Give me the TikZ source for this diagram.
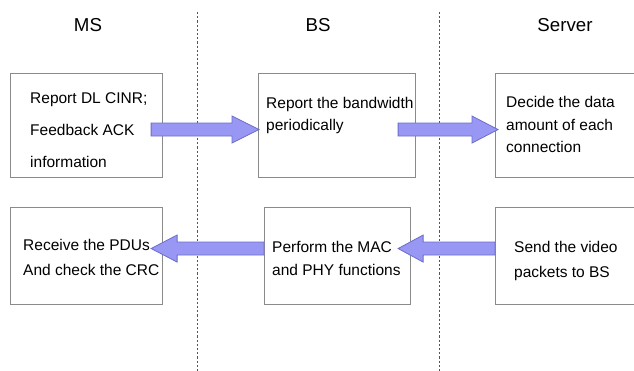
\documentclass[tikz,border=0pt]{standalone}
\usepackage{fontspec}
\setmainfont{Liberation Sans}
\usetikzlibrary{calc}
\definecolor{arrowfill}{HTML}{9898F4}
\definecolor{arrowline}{HTML}{6C6CCC}
\definecolor{boxline}{HTML}{8A8A8A}
\definecolor{dashline}{HTML}{555555}
\tikzset{
  box/.style={draw=boxline, line width=1.1pt, rectangle, inner sep=0pt},
  txt/.style={anchor=base west, inner sep=0pt, font=\fontsize{15.5}{18}\selectfont},
  head/.style={anchor=center, inner sep=0pt, font=\fontsize{18.7}{22}\selectfont},
  sep/.style={draw=dashline, line width=1pt, dash pattern=on 2.2pt off 2pt},
  fatarrow/.style={fill=arrowfill, draw=arrowline, line width=0.8pt, line join=miter}
}
\newcommand\fatarrow[3]{%
  \path[fatarrow] let \p1=(#1), \p2=(#2) in
    (\x1,{\y1+6.5pt}) -- ({\x2-(#3)*1pt},{\y1+6.5pt}) -- ({\x2-(#3)*1pt},{\y1+13.5pt})
    -- (\x2,\y1) -- ({\x2-(#3)*1pt},{\y1-13.5pt}) -- ({\x2-(#3)*1pt},{\y1-6.5pt})
    -- (\x1,{\y1-6.5pt}) -- cycle;}
\begin{document}
\begin{tikzpicture}[x=1pt,y=-1pt]
\useasboundingbox (0,0) rectangle (634,371);
\clip (0,0) rectangle (634,371);
\fill[white] (0,0) rectangle (634,371);
% separators
\coordinate (s1t) at (197.5,12); \coordinate (s1b) at (197.5,371);
\coordinate (s2t) at (439,12); \coordinate (s2b) at (439,371);
\draw[sep] (s1t) -- (s1b);
\draw[sep] (s2t) -- (s2b);
% headers
\node[head] (hms) at (88,25) {MS};
\node[head] (hbs) at (318,25) {BS};
\node[head] (hsv) at (565,25) {Server};
% boxes
\node[box, minimum width=152pt, minimum height=104pt, anchor=north west] (b1) at (10,73) {};
\node[box, minimum width=157pt, minimum height=104pt, anchor=north west] (b2) at (258,73) {};
\node[box, minimum width=160pt, minimum height=104pt, anchor=north west] (b3) at (495,73) {};
\node[box, minimum width=152pt, minimum height=97pt, anchor=north west] (b4) at (10,207) {};
\node[box, minimum width=146pt, minimum height=97pt, anchor=north west] (b5) at (264,207) {};
\node[box, minimum width=160pt, minimum height=97pt, anchor=north west] (b6) at (495,207) {};
% texts
\node[txt] (t1a) at (30,104) {Report DL CINR;};
\node[txt] (t1b) at (30,136) {Feedback ACK};
\node[txt] (t1c) at (30,168) {information};
\node[txt] (t2a) at (266,109) {Report the bandwidth};
\node[txt] (t2b) at (266,131) {periodically};
\node[txt] (t3a) at (506,108) {Decide the data};
\node[txt] (t3b) at (506,131) {amount of each};
\node[txt] (t3c) at (506,153) {connection};
\node[txt] (t4a) at (23,251) {Receive the PDUs};
\node[txt] (t4b) at (23,276) {And check the CRC};
\node[txt] (t5a) at (272,252) {Perform the MAC};
\node[txt] (t5b) at (272,276) {and PHY functions};
\node[txt] (t6a) at (514,252) {Send the video};
\node[txt] (t6b) at (514,277) {packets to BS};
% arrows
\coordinate (a1s) at ($(b1.east)+(-12,4)$);
\coordinate (a1e) at ($(b2.west)+(1,4)$);
\coordinate (a2s) at ($(b2.east)+(-18,4)$);
\coordinate (a2e) at ($(b3.west)+(3,4)$);
\coordinate (a3s) at ($(b5.west)+(0,-7.5)$);
\coordinate (a3e) at ($(b4.east)+(-12,-7.5)$);
\coordinate (a4s) at ($(b6.west)+(0,-7.5)$);
\coordinate (a4e) at ($(b5.east)+(-13,-7.5)$);
\fatarrow{a1s}{a1e}{27}
\fatarrow{a2s}{a2e}{26}
\fatarrow{a3s}{a3e}{-26}
\fatarrow{a4s}{a4e}{-25}
\end{tikzpicture}
\end{document}
